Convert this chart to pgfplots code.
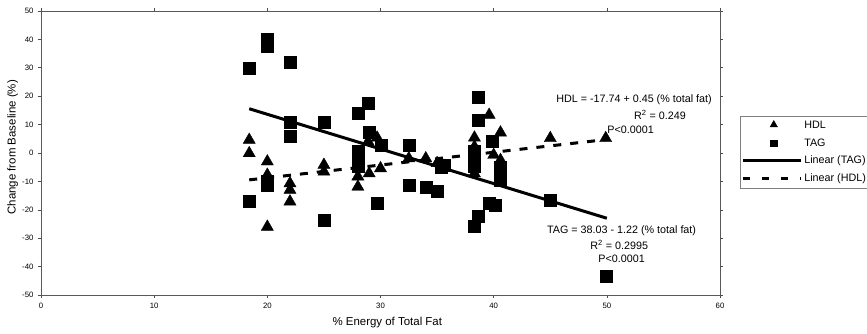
\documentclass[border=0pt]{standalone}
\usepackage{pgfplots}
\pgfplotsset{compat=1.18}
\usepackage{fontspec}
\setmainfont{Liberation Sans}

\pgfplotsset{
  trileg/.style={legend image code/.code={\path[draw=none,fill=none] (0bp,-3bp) rectangle (58bp,3bp);
    \draw[##1, mark size=4.2bp] plot coordinates {(31bp,1bp)};}},
  sqleg/.style={legend image code/.code={\path[draw=none,fill=none] (0bp,-3bp) rectangle (58bp,3bp);
    \draw[##1, mark size=3.4bp] plot coordinates {(31bp,0bp)};}},
  solidleg/.style={legend image code/.code={\draw[##1] (0bp,0bp) -- (58bp,0bp);}},
  dashleg/.style={legend image code/.code={\draw[##1, dash pattern=on 7bp off 12bp] (0bp,0bp) -- (58bp,0bp);}},
}

\pgfplotstableread{
x y
18.4 30
20 40
20 37.5
22 32
18.4 -17
20 -10
20 -11.3
22 10.7
22 6
25 11
25 -23.6
28 14
28.9 17.6
29 7.5
28 0.5
28 -1
28 -4.8
30.1 2.8
29.7 -17.6
32.5 2.8
32.5 -11.3
34 -12.2
35 -13.6
35.6 -4.2
35.4 -5
38.6 19.8
38.6 11.6
38.3 0.5
38.3 -1.3
38.3 -4.8
38.6 -22.4
38.3 -25.9
39.6 -17.6
40.1 -18.3
39.9 4
40.6 -5
40.6 -7.7
40.6 -9.5
45 -16.5
49.9 -43.5
}\tagdata

\pgfplotstableread{
x y
18.4 4.6
18.4 -0.1
20 -3
20 -7.7
20 -9.5
20 -26
22 -10.7
22 -13
22 -17.1
25 -4.2
25 -6.6
28 -8.3
28 -11.9
28.9 4
29 -7.2
29.7 5.4
30 -5.4
32.5 -1.9
34 -1.9
35 -3.6
38.3 5.4
38.3 2.2
38.3 -1.3
38.3 -4
38.3 -7.2
39.6 13.4
40 -0.7
40.6 7.2
40.6 -2.5
40.6 -5
40.6 -8
45 5.2
49.9 5.2
}\hdldata

\begin{document}
\begin{tikzpicture}[x=1bp,y=1bp]
\useasboundingbox (-41,-38) rectangle (826,295);
\begin{axis}[
  at={(0,0)}, anchor=south west,
  scale only axis, width=679bp, height=284bp,
  xmin=0, xmax=60, ymin=-50, ymax=50,
  xtick={0,10,...,60}, ytick={-50,-40,...,50},
  tick align=outside, major tick length=3bp,
  tick style={black!70, line width=0.6bp},
  axis line style={draw=black!65, line width=0.9bp},
  /pgf/number format/assume math mode=true,
  tick label style={font=\fontsize{7.8}{8}\selectfont},
  yticklabel style={xshift=-1bp},
  xticklabel style={yshift=-2bp},
  xlabel={\% Energy of Total Fat},
  ylabel={Change from Baseline (\%)},
  label style={font=\fontsize{11.5}{12}\selectfont},
  xlabel style={at={(axis description cs:0.51,-0.0986)}, anchor=center},
  ylabel style={at={(axis description cs:-0.0417,0.52)}, anchor=center},
  legend cell align=left,
  legend style={at={(axis description cs:1.0295,0.630)}, anchor=north west,
    draw=black!50, line width=0.5bp, font=\fontsize{10.8}{12}\selectfont,
    row sep=4.5bp, inner xsep=1bp, inner ysep=3bp},
  clip=false,
]
\addplot[only marks, mark=triangle*, mark size=7bp, color=black, trileg]
  table[x=x,y=y] {\hdldata};
\addlegendentry{HDL}
\addplot[only marks, mark=square*, mark size=6bp, color=black, sqleg]
  table[x=x,y=y] {\tagdata};
\addlegendentry{TAG}
\addplot[black, line width=3bp, no markers, solidleg]
  coordinates {(18.4,15.58) (50,-22.97)};
\addlegendentry{Linear (TAG)}
\addplot[black, line width=3bp, no markers, dash pattern=on 8bp off 9bp, dashleg]
  coordinates {(18.4,-9.46) (50,4.76)};
\addlegendentry{Linear (HDL)}

\node[font=\fontsize{10.8}{12}\selectfont] at (axis cs:52.4,18.7) {HDL = -17.74 + 0.45 (\% total fat)};
\node[font=\fontsize{10.8}{12}\selectfont] at (axis cs:54.7,13.4) {R\textsuperscript{2} = 0.249};
\node[font=\fontsize{10.8}{12}\selectfont] at (axis cs:52.1,8.1) {P<0.0001};
\node[font=\fontsize{10.8}{12}\selectfont] at (axis cs:51.3,-27.5) {TAG = 38.03 - 1.22 (\% total fat)};
\node[font=\fontsize{10.8}{12}\selectfont] at (axis cs:51.1,-32.4) {R\textsuperscript{2} = 0.2995};
\node[font=\fontsize{10.8}{12}\selectfont] at (axis cs:51.3,-37.3) {P<0.0001};
\end{axis}
\end{tikzpicture}
\end{document}
